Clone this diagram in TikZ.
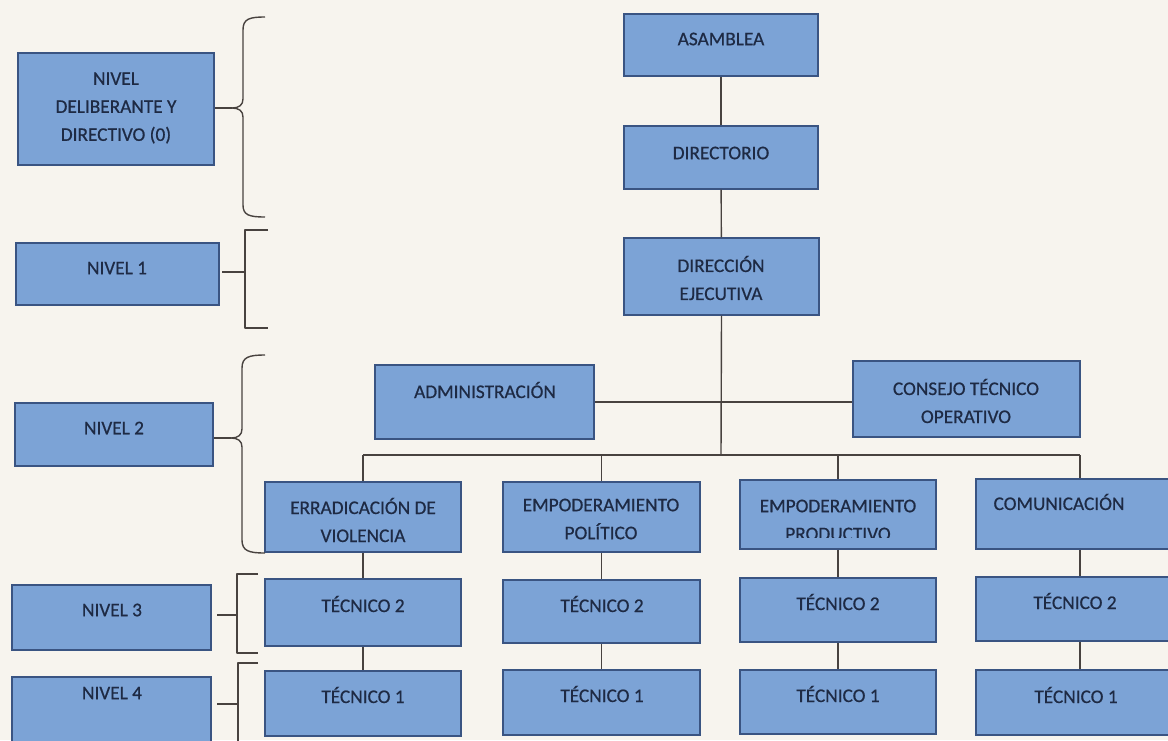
\documentclass[tikz,border=0pt]{standalone}
\usepackage{fontspec}
\setmainfont{Carlito}
\newfontfamily\orgfont{Carlito}[FakeBold=0.6]
\definecolor{bgc}{RGB}{247,244,238}
\definecolor{boxfill}{RGB}{124,163,214}
\definecolor{boxline}{RGB}{58,84,130}
\definecolor{txtc}{RGB}{30,42,68}
\definecolor{linec}{RGB}{72,66,63}
\newcommand\obox[5]{%
  \node[orgbox, minimum width={#4pt-#2pt}, minimum height={#5pt-#3pt}] (#1) at ({(#2+#4)/2},{(#3+#5)/2}) {};}
\newcommand\otext[4]{%
  \node[orgtxt] (#1) at (#2,#3) {#4};}
\begin{document}
\begin{tikzpicture}[x=1pt,y=-1pt,
  orgbox/.style={draw=boxline, fill=boxfill, line width=1.2pt, inner sep=0pt, rectangle},
  orgtxt/.style={text=txtc, align=center, inner sep=0pt, font=\orgfont\fontsize{19.3}{28}\selectfont},
  conn/.style={draw=linec, line width=1.4pt},
  brk/.style={draw=linec, line width=1.4pt, line join=round}]
\useasboundingbox (0,0) rectangle (1168,740);
\clip (0,0) rectangle (1168,740);
\fill[bgc] (0,0) rectangle (1168,740);

% left level boxes
\obox{n0}{18}{53}{214}{165}
\obox{n1}{16}{243}{219}{305}
\obox{n2}{15}{403}{213}{466}
\obox{n3}{12}{585}{211}{650}
\obox{n4}{12}{677}{211}{750}
\otext{n0t}{116}{108}{NIVEL\\DELIBERANTE Y\\DIRECTIVO (0)}
\otext{n1t}{117}{268}{NIVEL 1}
\otext{n2t}{114}{428}{NIVEL 2}
\otext{n3t}{112}{610}{NIVEL 3}
\otext{n4t}{112}{693}{NIVEL 4}

% main chain
\obox{asam}{624}{14}{818}{76}
\obox{dirt}{624}{126}{818}{189}
\obox{dire}{624}{238}{819}{315}
\obox{adm}{375}{365}{594}{439}
\obox{cons}{853}{361}{1080}{437}
\otext{asamt}{721}{39}{ASAMBLEA}
\otext{dirtt}{721}{153}{DIRECTORIO}
\otext{diret}{721}{278}{DIRECCIÓN\\EJECUTIVA}
\otext{admt}{485}{390}{ADMINISTRACIÓN}
\otext{const}{966}{401}{CONSEJO TÉCNICO\\OPERATIVO}

% area boxes
\obox{err}{265}{482}{461}{552}
\obox{pol}{503}{482}{700}{552}
\obox{prod}{740}{480}{936}{549}
\obox{com}{976}{479}{1184}{549}
\otext{errt}{363}{520}{ERRADICACIÓN DE\\VIOLENCIA}
\otext{polt}{601}{519}{EMPODERAMIENTO\\POLÍTICO}
\begin{scope}
\clip (740,480) rectangle (936,537);
\otext{prodt}{838}{520}{EMPODERAMIENTO\\PRODUCTIVO}
\end{scope}
\otext{comt}{1059}{502}{COMUNICACIÓN}

% tecnico 2
\obox{ta2}{265}{579}{461}{646}
\obox{tb2}{503}{580}{700}{643}
\obox{tc2}{740}{578}{936}{642}
\obox{td2}{976}{577}{1184}{641}
\otext{ta2t}{363}{604}{TÉCNICO 2}
\otext{tb2t}{602}{604}{TÉCNICO 2}
\otext{tc2t}{838}{602}{TÉCNICO 2}
\otext{td2t}{1075}{601}{TÉCNICO 2}

% tecnico 1
\obox{ta1}{265}{671}{461}{736}
\obox{tb1}{503}{670}{700}{735}
\obox{tc1}{740}{670}{936}{734}
\obox{td1}{976}{670}{1184}{735}
\otext{ta1t}{363}{695}{TÉCNICO 1}
\otext{tb1t}{602}{694}{TÉCNICO 1}
\otext{tc1t}{838}{694}{TÉCNICO 1}
\otext{td1t}{1076}{695}{TÉCNICO 1}

% connectors
\coordinate (busM) at (721,455);
\draw[conn] (asam) -- (dirt);
\draw[conn] (dirt) -- (dire);
\draw[conn] (dire.south) -- (busM);
\draw[conn] (adm.east) -- (adm.east -| cons.west);
\draw[conn] (err.north |- busM) -- (com.north |- busM);
\draw[conn] (err.north |- busM) -- (err.north);
\draw[conn] (pol.north |- busM) -- (pol.north);
\draw[conn] (prod.north |- busM) -- (prod.north);
\draw[conn] (com.north |- busM) -- (com.north);
\draw[conn] (err.south) -- (ta2.north);
\draw[conn] (pol.south) -- (tb2.north);
\draw[conn] (prod.south) -- (tc2.north);
\draw[conn] (com.south) -- (td2.north);
\draw[conn] (ta2.south) -- (ta1.north);
\draw[conn] (tb2.south) -- (tb1.north);
\draw[conn] (tc2.south) -- (tc1.north);
\draw[conn] (td2.south) -- (td1.north);

% braces
\coordinate (b0tip) at (232,108);
\draw[brk] (265,17) .. controls (249,17) and (243,19) .. (243,30) -- (243,99)
  .. controls (243,105) and (239,108) .. (b0tip)
  .. controls (239,108) and (243,111) .. (243,117) -- (243,205)
  .. controls (243,215) and (249,217) .. (265,217);
\draw[conn] (n0.east |- b0tip) -- (b0tip);

\coordinate (b1tip) at (245,272);
\draw[brk] (268,230) -- (245,230) -- (245,328) -- (268,328);
\draw[conn] (222,272) -- (b1tip);

\coordinate (b2tip) at (231,438);
\draw[brk] (265,355) .. controls (249,355) and (242,357) .. (242,368) -- (242,429)
  .. controls (242,435) and (238,438) .. (b2tip)
  .. controls (238,438) and (242,441) .. (242,447) -- (242,540)
  .. controls (242,551) and (249,553) .. (265,553);
\draw[conn] (n2.east |- b2tip) -- (b2tip);

\coordinate (b3tip) at (237,615);
\draw[brk] (258,574) -- (237,574) -- (237,653) -- (258,653);
\draw[conn] (217,615) -- (b3tip);

\coordinate (b4tip) at (238,704);
\draw[brk] (258,663) -- (238,663) -- (238,750);
\draw[conn] (217,704) -- (b4tip);
\end{tikzpicture}
\end{document}
